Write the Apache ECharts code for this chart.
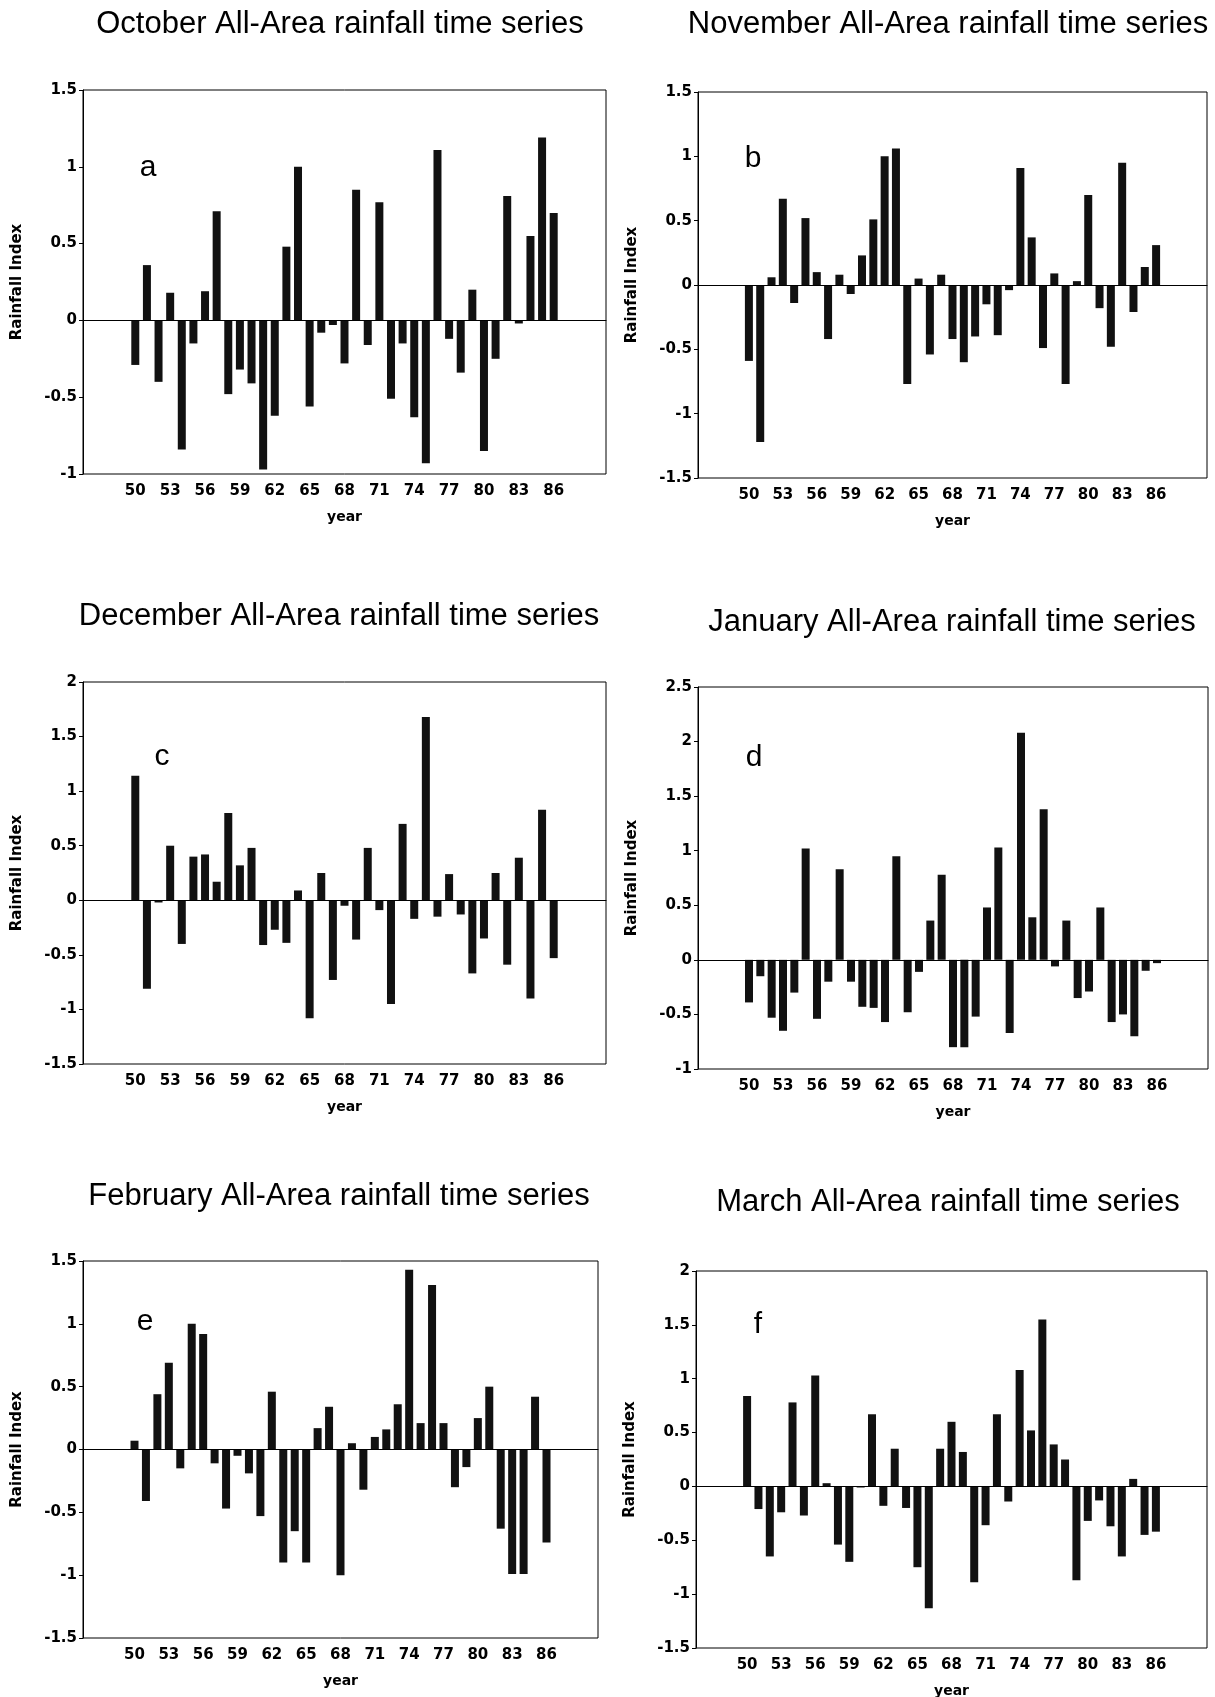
<!DOCTYPE html>
<html>
<head>
<meta charset="utf-8">
<title>All-Area rainfall time series</title>
<script src="https://cdn.jsdelivr.net/npm/echarts@6/dist/echarts.min.js"></script>
<style>
  html, body { margin: 0; padding: 0; background: #fff; }
  #main { width: 1215px; height: 1697px; }
</style>
</head>
<body>
<div id="main"></div>
<script>
// x axis runs 46..90, bars cover 1950..1986
const axisYears = ['46', '47', '48', '49', '50', '51', '52', '53', '54', '55', '56', '57', '58', '59',
  '60', '61', '62', '63', '64', '65', '66', '67', '68', '69', '70', '71', '72', '73', '74', '75',
  '76', '77', '78', '79', '80', '81', '82', '83', '84', '85', '86', '87', '88', '89', '90'];
const firstYear = 50;

// rainfall index, 1950 to 1986
const octRain = [-0.29, 0.36, -0.40, 0.18, -0.84, -0.15, 0.19, 0.71, -0.48, -0.32, -0.41, -0.97, -0.62,
  0.48, 1.0, -0.56, -0.08, -0.03, -0.28, 0.85, -0.16, 0.77, -0.51, -0.15, -0.63, -0.93, 1.11, -0.12,
  -0.34, 0.20, -0.85, -0.25, 0.81, -0.02, 0.55, 1.19, 0.70];
const novRain = [-0.59, -1.22, 0.06, 0.67, -0.14, 0.52, 0.10, -0.42, 0.08, -0.07, 0.23, 0.51, 1.0,
  1.06, -0.77, 0.05, -0.54, 0.08, -0.42, -0.60, -0.40, -0.15, -0.39, -0.04, 0.91, 0.37, -0.49, 0.09,
  -0.77, 0.03, 0.70, -0.18, -0.48, 0.95, -0.21, 0.14, 0.31];
const decRain = [1.14, -0.81, -0.02, 0.50, -0.40, 0.40, 0.42, 0.17, 0.80, 0.32, 0.48, -0.41, -0.27,
  -0.39, 0.09, -1.08, 0.25, -0.73, -0.05, -0.36, 0.48, -0.09, -0.95, 0.70, -0.17, 1.68, -0.15, 0.24,
  -0.13, -0.67, -0.35, 0.25, -0.59, 0.39, -0.90, 0.83, -0.53];
const janRain = [-0.39, -0.15, -0.53, -0.65, -0.30, 1.02, -0.54, -0.20, 0.83, -0.20, -0.43, -0.44,
  -0.57, 0.95, -0.48, -0.11, 0.36, 0.78, -0.80, -0.80, -0.52, 0.48, 1.03, -0.67, 2.08, 0.39, 1.38,
  -0.06, 0.36, -0.35, -0.29, 0.48, -0.57, -0.50, -0.70, -0.10, -0.03];
const febRain = [0.07, -0.41, 0.44, 0.69, -0.15, 1.0, 0.92, -0.11, -0.47, -0.05, -0.19, -0.53, 0.46,
  -0.90, -0.65, -0.90, 0.17, 0.34, -1.0, 0.05, -0.32, 0.10, 0.16, 0.36, 1.43, 0.21, 1.31, 0.21, -0.30,
  -0.14, 0.25, 0.50, -0.63, -0.99, -0.99, 0.42, -0.74];
const marRain = [0.84, -0.21, -0.65, -0.24, 0.78, -0.27, 1.03, 0.03, -0.54, -0.70, -0.01, 0.67, -0.18,
  0.35, -0.20, -0.75, -1.13, 0.35, 0.60, 0.32, -0.89, -0.36, 0.67, -0.14, 1.08, 0.52, 1.55, 0.39, 0.25,
  -0.87, -0.32, -0.13, -0.37, -0.65, 0.07, -0.45, -0.42];

const titles = ['October All-Area rainfall time series', 'November All-Area rainfall time series',
  'December All-Area rainfall time series', 'January All-Area rainfall time series',
  'February All-Area rainfall time series', 'March All-Area rainfall time series'];
const letters = ['a', 'b', 'c', 'd', 'e', 'f'];
const yMins = [-1, -1.5, -1.5, -1, -1.5, -1.5];
const yMaxs = [1.5, 1.5, 2, 2.5, 1.5, 2];

const allRain = [octRain, novRain, decRain, janRain, febRain, marRain];

// panel placement on the page
const panels = [
  { left: 83, top: 90, width: 523, height: 384, tx: 340, ty: 24, lx: 148, ly: 168 },
  { left: 698, top: 92, width: 509, height: 386, tx: 948, ty: 24, lx: 753, ly: 159 },
  { left: 83, top: 682, width: 523, height: 382, tx: 339, ty: 616, lx: 162, ly: 757 },
  { left: 698, top: 687, width: 510, height: 382, tx: 952, ty: 622, lx: 754, ly: 758 },
  { left: 83, top: 1261, width: 515, height: 377, tx: 339, ty: 1196, lx: 145, ly: 1322 },
  { left: 696, top: 1271, width: 511, height: 377, tx: 948, ty: 1202, lx: 758, ly: 1325 }
];

const boldText = { color: '#000', fontFamily: 'DejaVu Sans', fontWeight: 'bold', fontSize: 15 };

let chartDom = document.getElementById('main');
let myChart = echarts.init(chartDom, null, { renderer: 'canvas' });

const grid = [], xAxis = [], yAxis = [], series = [], graphic = [];

panels.forEach((p, i) => {
  grid.push({
    left: p.left, top: p.top, width: p.width, height: p.height,
    show: true, borderColor: '#000', borderWidth: 1, backgroundColor: 'transparent',
    containLabel: false, outerBoundsMode: 'none'
  });
  xAxis.push({
    type: 'category', gridIndex: i, data: axisYears, boundaryGap: true,
    axisLine: { lineStyle: { color: '#000', width: 1 } },
    axisTick: {
      length: 4, lineStyle: { color: '#000' },
      interval: (idx, val) => +val >= firstYear && +val <= 87
    },
    axisLabel: Object.assign({
      margin: 10,
      interval: (idx, val) => +val >= firstYear && +val <= 86 && (+val - firstYear) % 3 === 0
    }, boldText),
    splitLine: { show: false },
    name: 'year', nameLocation: 'middle', nameGap: 36,
    nameTextStyle: Object.assign({}, boldText, { fontSize: 14 })
  });
  yAxis.push({
    type: 'value', gridIndex: i, min: yMins[i], max: yMaxs[i], interval: 0.5,
    axisLine: { show: true, lineStyle: { color: '#000', width: 1 } },
    axisTick: { show: true, length: 4, lineStyle: { color: '#000' } },
    axisLabel: Object.assign({ margin: 6 }, boldText),
    splitLine: { show: false },
    name: 'Rainfall Index', nameLocation: 'middle', nameRotate: 90, nameGap: 58,
    nameTextStyle: Object.assign({}, boldText, { fontSize: 15 })
  });
  series.push({
    type: 'bar', xAxisIndex: i, yAxisIndex: i, barWidth: 8,
    itemStyle: { color: '#111' },
    data: allRain[i].map((v, k) => [String(firstYear + k), v]),
    markLine: {
      silent: true, symbol: ['none', 'none'], label: { show: false },
      lineStyle: { color: '#000', width: 1.2, type: 'solid' },
      data: [{ yAxis: 0 }]
    }
  });
  graphic.push({
    type: 'text', x: p.tx, y: p.ty,
    style: { text: titles[i], font: '31px "Liberation Sans", Arial', fill: '#000',
      textAlign: 'center', textVerticalAlign: 'middle' }
  });
  graphic.push({
    type: 'text', x: p.lx, y: p.ly,
    style: { text: letters[i], font: '30px "Liberation Sans", Arial', fill: '#000',
      textAlign: 'center', textVerticalAlign: 'middle' }
  });
});

const option = {
  animation: false,
  backgroundColor: '#fff',
  grid, xAxis, yAxis, series, graphic
};

myChart.setOption(option);
</script>
</body>
</html>
